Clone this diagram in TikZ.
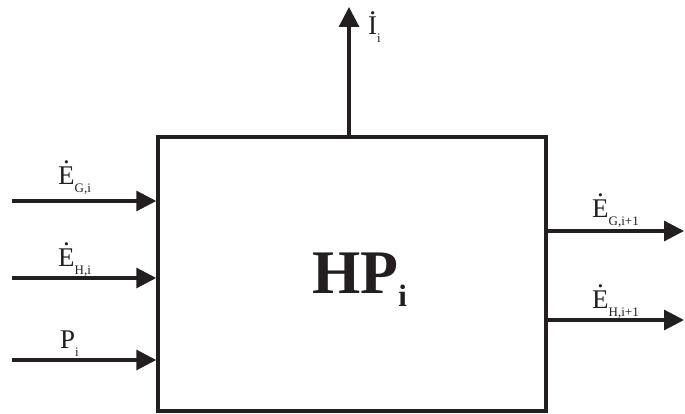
\documentclass[tikz,border=0pt]{standalone}
\usepackage{fontspec}
\setmainfont{Liberation Serif}
\usepackage{tikz}
\usetikzlibrary{positioning,calc,arrows.meta}
\definecolor{ink}{HTML}{231F20}

% letter with a dot set well above it
\newcommand{\hdot}[1]{\setbox0\hbox{#1}%
  \rlap{\hbox to\wd0{\hss\raisebox{\dimexpr\ht0+3pt\relax}{.}\hss}}\box0}
% flow symbol with a low subscript
\newcommand{\flowlbl}[2]{#1\raisebox{-8pt}{\fontsize{13}{13}\selectfont #2}}

\begin{document}
\begin{tikzpicture}[
  x=1pt, y=1pt,
  hpbox/.style={draw=ink, line width=3.5pt, minimum width=388pt, minimum height=274pt, inner sep=0pt},
  flow/.style={draw=ink, line width=3.2pt, -{Triangle[length=20pt,width=20pt]}},
  lbl/.style={font=\fontsize{27}{27}\selectfont, text=ink, anchor=base west, inner sep=0pt},
]
\useasboundingbox (0,0) rectangle (685,413);

% the block
\node[hpbox] (hp) at (352,139) {};
\node[text=ink, anchor=base west, inner sep=0pt] (hptxt) at (312,120)
  {\fontsize{62}{62}\selectfont\bfseries HP\raisebox{-13pt}{\fontsize{31}{31}\selectfont i}};

% inputs on the left
\coordinate (gin) at (12,212);
\coordinate (hin) at (12,135);
\coordinate (pin) at (12,53);
\draw[flow] (gin) -- (gin -| hp.west);
\draw[flow] (hin) -- (hin -| hp.west);
\draw[flow] (pin) -- (pin -| hp.west);
\node[lbl] (lgin) at (58,229) {\flowlbl{\hdot{E}}{G,i}};
\node[lbl] (lhin) at (58,147) {\flowlbl{\hdot{E}}{H,i}};
\node[lbl] (lpin) at (60,65) {\flowlbl{P}{i}};

% outputs on the right
\coordinate (gout) at (684,182);
\coordinate (hout) at (684,93);
\draw[flow] (gout -| hp.east) -- (gout);
\draw[flow] (hout -| hp.east) -- (hout);
\node[lbl] (lgout) at (592,196) {\flowlbl{\hdot{E}}{G,i+1}};
\node[lbl] (lhout) at (592,105) {\flowlbl{\hdot{E}}{H,i+1}};

% loss on top
\coordinate (iout) at (349,406);
\draw[flow] (iout |- hp.north) -- (iout);
\node[lbl] (liout) at (368,378) {\flowlbl{\hdot{I}}{i}};
\end{tikzpicture}
\end{document}
